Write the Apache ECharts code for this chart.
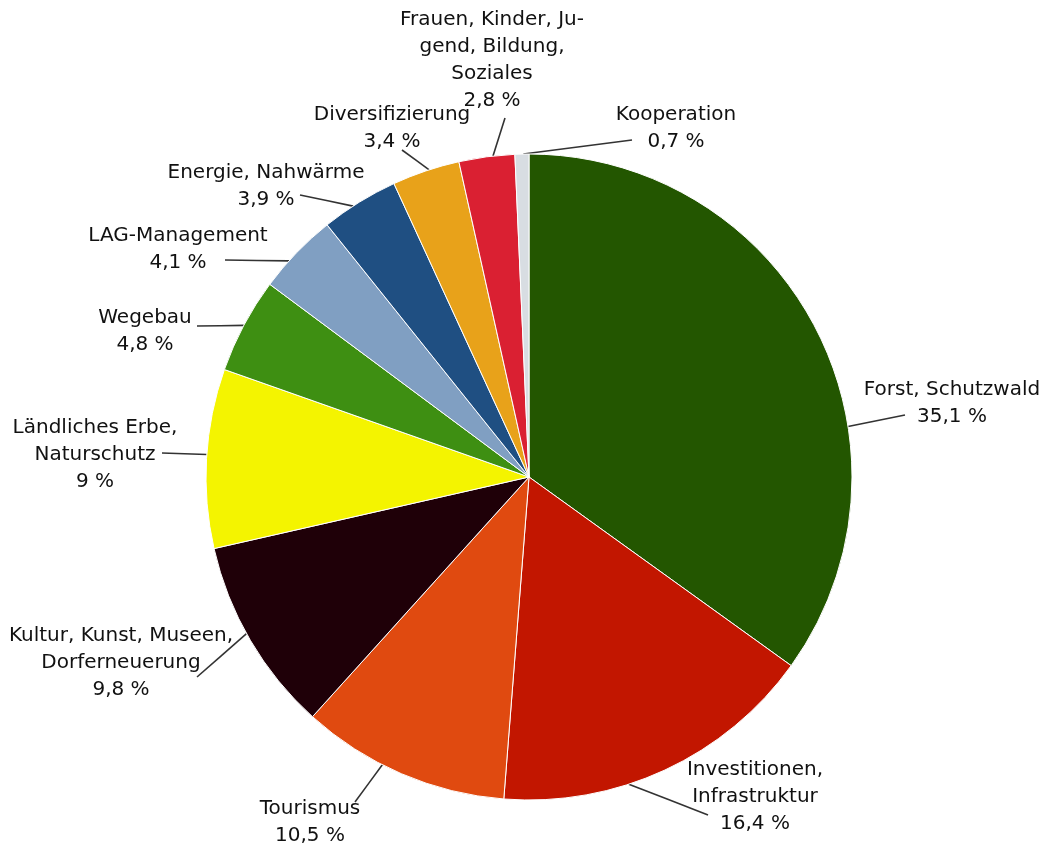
<!DOCTYPE html>
<html>
<head>
<meta charset="utf-8">
<script src="https://cdn.jsdelivr.net/npm/echarts@6/dist/echarts.min.js"></script>
<style>
  html, body { margin: 0; padding: 0; background: #ffffff; }
  #chart { width: 1052px; height: 848px; }
</style>
</head>
<body>
<div id="chart"></div>
<script>
// Funding shares by measure (percent), clockwise from 12 o'clock
const categories = [
  'Forst, Schutzwald',
  'Investitionen,\nInfrastruktur',
  'Tourismus',
  'Kultur, Kunst, Museen,\nDorferneuerung',
  'Ländliches Erbe,\nNaturschutz',
  'Wegebau',
  'LAG-Management',
  'Energie, Nahwärme',
  'Diversifizierung',
  'Frauen, Kinder, Ju-\ngend, Bildung,\nSoziales',
  'Kooperation'
];
const shares = [35.1, 16.4, 10.5, 9.8, 9, 4.8, 4.1, 3.9, 3.4, 2.8, 0.7];

// Slice colours, same order as the categories
const sliceColors = [
  '#235600', '#c21600', '#e04a10', '#1f0008', '#f4f400',
  '#3e8f12', '#809fc2', '#1f4f82', '#e8a21a', '#da2032', '#d8dde2'
];

// Pie geometry (px)
const pieCenter = [529, 477];
const pieRadius = 323;

// Where each label block is centred on the canvas (px)
const labelSpots = [
  [952, 403], [755, 797], [310, 822], [121, 663], [95, 455],
  [145, 331], [178, 249], [266, 186], [392, 128], [492, 60], [676, 128]
];

// Leader lines: angle on the rim (degrees clockwise from 12 o'clock)
// and the free end next to the label (px)
const leaderRimAngles = [81, 162, 207, 241, 274, 298, 312, 327, 342, 353.6, 359];
const leaderEnds = [
  [905, 415], [708, 815], [355, 802], [197, 677], [162, 453],
  [197, 326], [225, 260], [300, 195], [402, 150], [505, 118], [632, 140]
];

const rimPoint = deg => {
  const a = deg * Math.PI / 180;
  return [pieCenter[0] + pieRadius * Math.sin(a), pieCenter[1] - pieRadius * Math.cos(a)];
};

const fmtValue = v => String(v).replace('.', ',') + ' %';

const chart = echarts.init(document.getElementById('chart'), null, { renderer: 'canvas' });

chart.setOption({
  backgroundColor: '#ffffff',
  animation: false,
  series: [{
    type: 'pie',
    center: pieCenter,
    radius: [0, pieRadius],
    startAngle: 90,
    clockwise: true,
    avoidLabelOverlap: false,
    data: categories.map((name, i) => ({
      name: name,
      value: shares[i],
      itemStyle: { color: sliceColors[i] }
    })),
    itemStyle: { borderColor: '#ffffff', borderWidth: 1 },
    label: {
      show: true,
      position: 'outside',
      formatter: p => p.name + '\n' + fmtValue(p.value),
      fontFamily: '"DejaVu Sans", sans-serif',
      fontSize: 20,
      lineHeight: 27,
      color: '#111111',
      align: 'center'
    },
    labelLine: {
      show: true,
      length: 20,
      length2: 20,
      lineStyle: { color: '#333333', width: 1.6 }
    },
    labelLayout: params => {
      const i = params.dataIndex;
      const start = rimPoint(leaderRimAngles[i]);
      const end = leaderEnds[i];
      const mid = [(start[0] + end[0]) / 2, (start[1] + end[1]) / 2];
      return {
        x: labelSpots[i][0],
        y: labelSpots[i][1],
        align: 'center',
        verticalAlign: 'middle',
        labelLinePoints: [start, mid, end]
      };
    },
    emphasis: { disabled: true }
  }]
});
</script>
</body>
</html>
